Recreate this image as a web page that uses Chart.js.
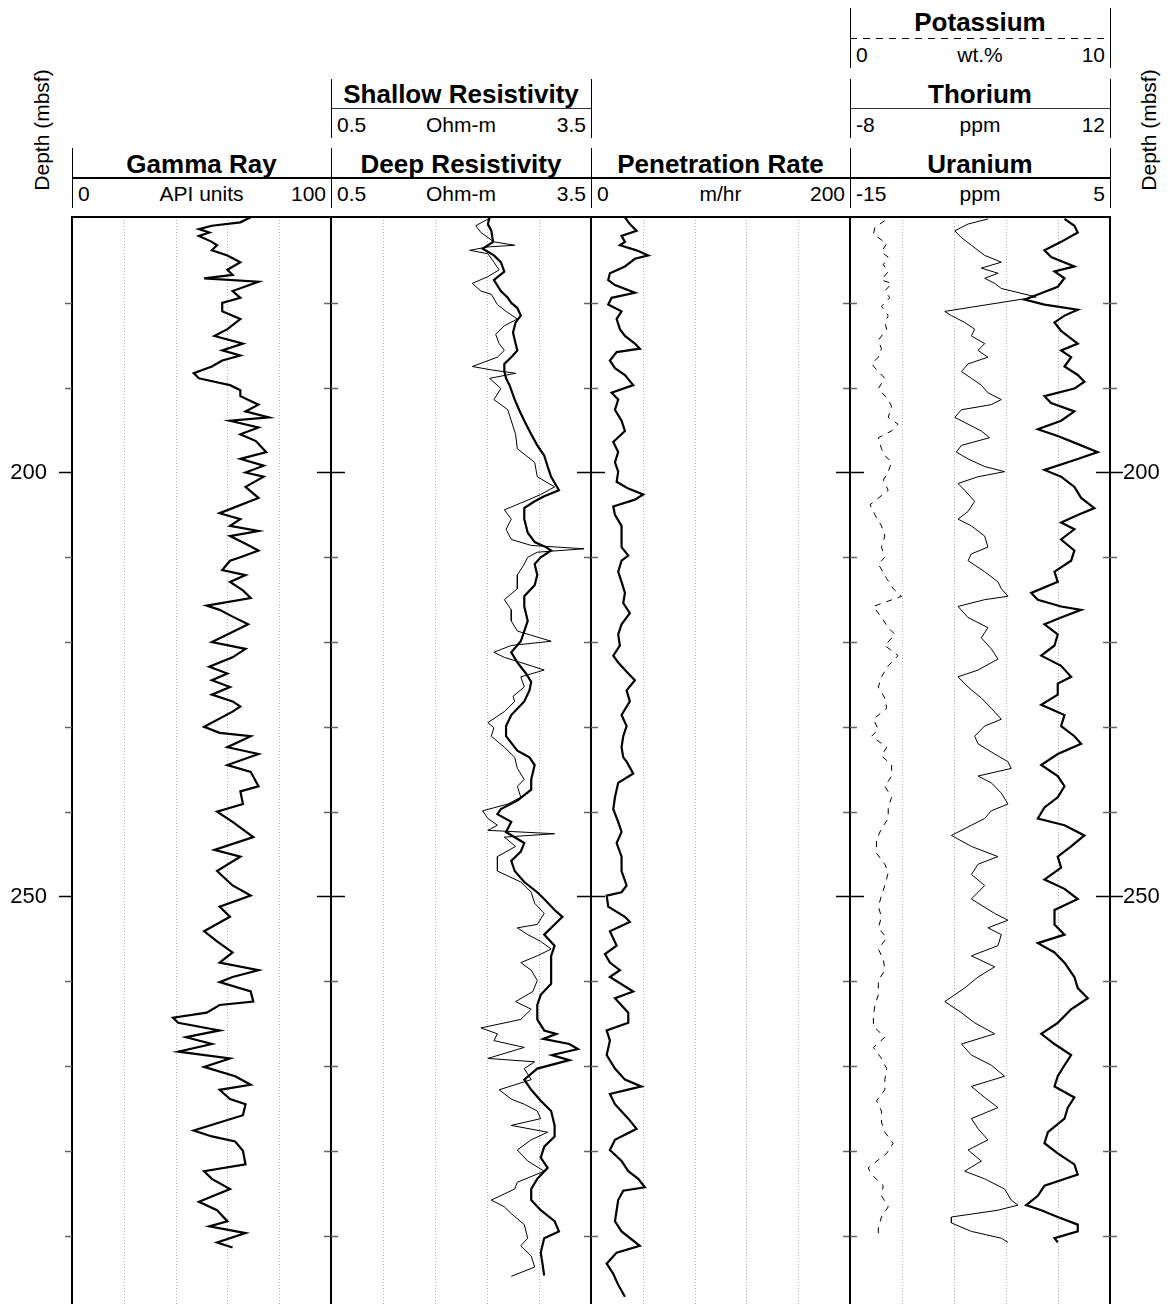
<!DOCTYPE html>
<html>
<head>
<meta charset="utf-8">
<script src="https://cdn.jsdelivr.net/npm/chart.js@4.4.1/dist/chart.umd.min.js"></script>
<style>
  html, body { margin: 0; padding: 0; background: #fff; overflow: hidden; }
  body { width: 1175px; height: 1304px; position: relative; font-family: "Liberation Sans", Arial, Helvetica, sans-serif; }
  canvas { position: absolute; }
  .txt { position: absolute; white-space: nowrap; color: #000; line-height: 1; }
  .rule { position: absolute; background: #000; }
</style>
</head>
<body>
<script>
// Depth axis (mbsf), shared by every track
const depthRange = [169.87, 298.06];
const depthTicks = [180, 190, 200, 210, 220, 230, 240, 250, 260, 270, 280, 290];
const depthLabels = [200, 250];

// Scale ranges shown in the headers
const grRange = [0, 100];
const resRange = [0.5, 3.5];
const ropRange = [0, 200];
const kRange = [0, 10];
const thRange = [-8, 12];
const uRange = [-15, 5];

// Dotted grid positions inside each track
const grGrid = [20, 40, 60, 80];
const resGrid = [1.1, 1.7, 2.3, 2.9];
const ropGrid = [40, 80, 120, 160];
const kGrid = [2, 4, 6, 8];

// Gamma ray (API units)
const grDepth = [169.9,170.5,170.9,171.3,171.7,172.1,172.8,173.2,173.8,174.4,
  175.2,176.1,176.7,177.1,177.5,178.6,179.4,180.0,181.0,181.9,
  183.1,183.9,184.8,185.6,186.2,186.8,187.5,188.3,188.9,189.3,
  189.7,190.3,191.0,192.0,192.8,193.5,193.9,194.7,195.5,196.3,
  197.6,198.4,199.2,200.0,200.5,201.7,203.0,204.2,204.8,205.5,
  206.3,206.9,207.5,208.4,209.2,210.0,210.4,211.5,212.1,212.9,
  213.9,214.8,215.7,216.2,217.0,217.9,219.1,220.0,220.8,221.8,
  222.9,223.7,224.5,225.3,226.2,227.0,227.6,228.2,230.0,230.7,
  231.1,232.4,233.2,234.5,235.3,237.0,237.6,239.1,240.0,241.2,
  243.0,244.5,245.3,247.0,248.7,249.9,251.2,252.4,254.1,255.3,
  256.6,257.8,258.7,259.5,260.1,261.2,262.4,262.8,263.7,264.3,
  264.9,265.8,266.6,267.4,268.3,269.1,270.1,271.2,272.2,272.8,
  273.9,274.5,275.8,277.6,278.3,278.9,280.0,281.6,282.4,283.3,
  284.5,286.0,287.0,288.3,288.9,289.7,290.8,291.4];
const grValues = [69,65,54,49,53,49,54,56,54,60,
  65,60,62,51,72,62,65,58,58,65,
  60,55,66,58,65,58,54,47,49,55,
  61,65,65,72,67,76,61,72,65,71,
  75,65,74,67,74,67,72,62,57,65,
  61,72,61,67,72,65,61,58,67,61,
  66,69,52,57,62,68,60,54,67,62,
  53,60,54,61,54,62,65,62,51,57,
  69,60,72,60,69,72,65,66,56,62,
  70,55,65,56,62,69,57,61,51,56,
  62,57,72,62,57,69,70,57,52,39,
  41,57,44,54,41,61,51,63,69,57,
  61,67,66,47,54,63,66,67,51,54,
  61,49,56,60,53,67,56,62];

// Deep resistivity (Ohm-m)
const deepDepth = [169.9,170.7,171.5,172.8,173.6,174.4,175.2,176.3,177.3,178.6,
  179.4,180.0,180.6,181.5,182.3,183.5,184.8,185.6,186.4,187.2,
  188.1,188.9,189.7,191.4,192.6,193.9,195.5,196.8,198.0,199.3,
  200.5,202.1,202.8,203.4,204.2,205.5,207.1,208.2,208.8,209.2,
  210.0,210.8,212.1,213.3,214.6,215.8,217.5,218.7,219.9,221.2,
  222.4,223.7,224.7,225.7,227.0,228.6,229.9,231.1,232.8,233.6,
  234.5,236.2,237.4,238.7,239.7,240.3,241.2,242.4,243.7,244.7,
  245.8,247.0,248.3,249.5,250.3,251.6,252.4,253.3,254.5,255.8,
  257.0,258.7,260.3,261.6,262.8,264.5,265.8,266.2,266.8,267.4,
  268.0,268.7,269.3,270.3,271.6,272.8,274.1,275.3,277.0,278.3,
  279.5,280.8,282.0,283.3,284.5,285.8,287.0,288.3,289.5,290.3,
  292.0,293.3,294.7];
const deepValues = [2.33,2.31,2.35,2.37,2.25,2.38,2.46,2.50,2.38,2.46,
  2.54,2.58,2.65,2.69,2.63,2.60,2.63,2.65,2.58,2.50,
  2.50,2.52,2.56,2.62,2.67,2.73,2.81,2.88,2.96,3.00,
  3.04,3.13,2.96,2.85,2.73,2.73,2.77,2.85,2.98,3.04,
  2.92,2.85,2.88,2.85,2.73,2.73,2.77,2.73,2.69,2.58,
  2.65,2.75,2.81,2.79,2.73,2.58,2.52,2.52,2.65,2.79,
  2.85,2.81,2.81,2.65,2.46,2.42,2.58,2.52,2.73,2.69,
  2.58,2.62,2.73,2.88,2.96,3.08,3.17,3.08,2.96,3.08,
  3.04,3.04,3.04,2.92,2.88,2.88,2.96,3.10,2.95,3.25,
  3.35,3.05,3.25,2.88,2.73,2.81,2.92,3.04,3.08,3.08,
  2.96,2.92,3.00,2.88,2.81,2.81,2.92,3.08,3.13,2.96,
  2.92,2.94,2.96];

// Shallow resistivity (Ohm-m)
const shallowDepth = [169.9,170.9,171.7,172.8,173.2,173.4,173.8,174.2,175.2,176.1,
  176.9,177.7,178.6,179.0,180.2,181.0,181.9,182.7,183.7,184.8,
  185.6,186.4,187.5,187.9,188.3,188.9,190.1,191.4,192.6,193.9,
  195.5,197.2,198.8,200.5,201.7,202.6,203.6,204.4,205.5,206.7,
  207.9,208.6,209.0,209.4,210.0,210.8,212.1,213.7,215.0,216.2,
  217.5,218.7,219.9,220.4,221.2,221.8,222.8,223.3,224.1,225.3,
  226.4,227.0,228.2,229.5,230.1,231.1,232.4,233.6,234.9,236.2,
  237.0,238.3,239.1,239.9,240.8,241.6,242.2,242.6,243.0,244.1,
  245.3,247.0,248.3,249.5,250.8,252.0,253.3,253.7,254.5,255.3,
  256.2,257.0,257.8,258.7,259.9,261.2,262.4,263.3,264.5,265.5,
  266.2,267.0,267.8,269.1,269.5,270.3,271.6,272.8,273.9,274.5,
  275.3,276.2,277.0,277.8,278.7,279.9,281.2,282.4,283.7,284.5,
  285.8,286.6,287.4,288.7,290.3,291.2,292.4,293.7,294.8];
const shallowValues = [2.35,2.17,2.23,2.38,2.62,2.31,2.10,2.31,2.38,2.44,
  2.31,2.13,2.23,2.35,2.42,2.52,2.65,2.50,2.40,2.44,
  2.50,2.42,2.13,2.35,2.63,2.33,2.46,2.38,2.54,2.58,
  2.63,2.65,2.85,2.88,3.08,2.92,2.69,2.50,2.58,2.52,
  2.58,2.81,3.42,2.88,2.77,2.73,2.65,2.65,2.50,2.58,
  2.58,2.65,3.04,2.58,2.38,2.50,2.81,2.96,2.69,2.73,
  2.60,2.62,2.50,2.31,2.38,2.35,2.50,2.62,2.65,2.73,
  2.65,2.69,2.54,2.25,2.31,2.42,2.31,3.08,2.50,2.63,
  2.42,2.42,2.69,2.81,2.85,2.96,2.88,2.65,2.77,2.92,
  3.04,2.88,2.69,2.81,2.88,2.83,2.63,2.81,2.69,2.23,
  2.42,2.38,2.73,2.31,2.85,2.73,2.81,2.44,2.58,2.73,
  2.88,2.92,2.58,3.00,2.81,2.65,2.77,2.96,2.65,2.62,
  2.35,2.50,2.58,2.73,2.77,2.69,2.81,2.85,2.58];

// Penetration rate (m/hr)
const ropDepth = [169.9,170.7,171.5,172.1,172.8,173.2,173.8,174.4,174.8,175.7,
  176.5,177.3,177.9,178.8,179.4,180.2,181.0,181.9,183.1,183.9,
  184.8,185.4,185.8,186.8,187.7,188.5,189.7,190.6,191.4,192.6,
  193.9,195.1,196.4,197.6,198.8,199.9,201.1,201.9,202.6,203.2,
  204.0,205.0,206.3,207.5,208.8,209.8,210.4,211.7,212.9,214.2,
  215.4,216.6,217.9,219.1,220.4,221.6,222.4,223.7,224.5,225.7,
  227.0,228.6,229.9,231.1,232.4,233.6,234.1,235.5,236.6,238.3,
  239.7,241.2,242.4,243.7,245.3,247.0,248.7,249.5,249.9,251.2,
  252.4,253.0,254.1,255.8,256.8,257.8,258.7,259.5,261.2,262.0,
  263.7,264.9,265.8,267.0,268.7,270.3,271.6,272.4,273.3,274.5,
  276.2,277.4,278.7,279.9,281.2,282.4,283.3,284.3,284.7,285.8,
  287.0,288.3,289.5,291.2,292.0,293.3,294.5,295.8,297.2];
const ropValues = [26.2,30.0,35.2,23.6,26.2,22.3,35.2,44.2,33.9,26.2,
  14.6,13.3,18.5,33.9,15.9,13.3,23.6,19.8,22.3,26.2,
  33.9,37.7,19.8,14.6,18.5,26.2,32.6,15.9,21.0,18.5,
  23.6,26.2,17.2,21.0,18.5,21.0,19.8,28.8,40.3,33.9,
  17.2,18.5,23.6,23.6,23.6,28.8,23.6,21.0,23.6,26.2,
  24.9,30.0,23.6,21.0,22.3,17.2,21.0,28.8,33.9,27.5,
  30.0,23.6,27.5,24.9,23.6,24.9,27.5,32.6,21.0,18.5,
  17.2,21.0,23.6,19.8,23.6,23.6,27.5,23.6,12.1,13.3,
  26.2,30.0,14.6,19.8,10.8,14.6,22.3,14.6,32.6,18.5,
  28.8,28.8,12.1,14.6,12.1,18.5,26.2,39.0,14.6,18.5,
  28.8,35.2,18.5,14.6,23.6,28.8,36.5,41.6,24.9,21.0,
  19.8,18.5,23.6,37.7,19.8,12.1,17.2,21.0,26.2];

// Potassium (wt.%)
const kDepth = [170.3,171.1,171.9,173.0,174.0,174.6,175.5,176.3,177.3,177.7,
  178.6,179.4,180.4,181.5,182.3,183.1,184.4,185.4,186.4,187.2,
  188.1,188.9,190.1,191.4,192.2,193.5,194.3,195.1,195.9,197.2,
  198.0,198.8,199.9,200.9,202.1,203.8,205.0,206.3,207.5,208.8,
  210.0,210.8,212.5,213.7,214.6,215.8,217.1,218.3,219.1,220.4,
  221.6,222.8,224.1,225.3,226.6,227.8,229.1,230.3,231.1,232.4,
  233.4,234.5,235.8,237.0,238.3,239.5,240.8,242.0,243.3,244.9,
  246.2,247.2,248.7,249.9,251.2,252.4,253.7,254.9,256.2,257.4,
  258.7,259.9,261.6,262.8,264.1,265.3,266.6,267.8,269.1,270.3,
  271.6,272.8,274.1,275.3,276.6,277.8,279.1,280.3,282.0,282.8,
  284.1,285.3,286.6,287.8,289.1,290.3];
const kValues = [1.34,0.96,0.90,1.41,1.21,1.47,1.28,1.47,1.21,1.60,
  1.34,1.53,1.21,1.47,1.34,1.41,1.09,1.21,1.09,0.83,
  1.09,1.34,1.09,1.47,1.60,1.47,1.85,1.60,1.09,1.21,
  1.34,1.60,1.47,1.28,1.47,0.77,0.96,1.21,1.34,1.21,
  1.34,1.09,1.41,1.66,1.98,0.90,1.21,1.47,1.73,1.34,
  1.85,1.47,1.21,1.09,1.34,1.41,0.90,1.09,0.83,1.41,
  1.21,1.60,1.60,1.34,1.60,1.47,1.47,1.21,1.02,1.02,
  1.34,1.47,1.34,1.21,1.09,1.21,1.09,1.41,1.09,1.28,
  1.34,1.09,1.09,0.96,0.90,0.90,1.34,0.90,1.21,1.41,
  1.34,1.34,1.02,1.21,1.21,1.34,1.66,1.41,0.70,0.83,
  1.28,1.21,1.47,1.21,1.09,1.09];

// Thorium (ppm)
const thDepth = [170.1,170.7,171.5,172.3,173.2,174.4,175.2,175.9,176.5,177.1,
  177.7,178.3,179.3,181.0,181.5,182.3,183.1,183.9,184.8,185.6,
  186.4,187.2,188.1,188.9,189.7,190.6,191.4,192.0,192.6,193.5,
  194.3,195.1,195.9,196.8,197.6,198.4,199.3,199.9,200.5,201.3,
  202.1,203.4,204.6,205.5,206.3,207.5,208.8,209.6,210.4,211.7,
  212.9,213.7,214.6,215.0,215.8,217.1,218.3,219.5,220.8,222.0,
  223.3,224.1,225.3,226.6,227.8,229.1,229.9,231.1,232.0,233.2,
  234.1,234.9,235.8,236.6,237.8,239.1,239.9,240.8,241.6,242.8,
  244.1,245.3,246.2,247.4,248.7,250.3,252.0,252.8,253.7,254.5,
  255.8,257.0,258.3,259.5,260.8,262.4,263.7,264.9,266.2,267.4,
  268.7,269.9,271.2,272.4,273.7,274.9,276.2,277.4,278.7,279.9,
  281.2,282.4,283.3,284.5,285.8,286.4,287.0,287.8,288.5,289.5,
  290.3,290.8];
const thValues = [2.61,1.08,0.06,0.57,1.34,2.36,3.64,2.10,3.38,2.36,
  3.13,3.64,6.32,-0.71,-0.20,0.82,1.59,1.34,2.36,1.85,
  2.61,1.08,0.57,1.34,2.10,2.61,3.64,2.87,0.57,0.06,
  1.08,2.10,2.74,0.57,0.18,1.08,2.36,3.89,1.85,0.31,
  0.82,1.59,1.08,0.31,1.34,2.36,2.61,1.34,1.08,2.36,
  3.38,3.64,4.15,2.36,0.31,1.08,2.61,2.10,2.87,3.38,
  1.85,0.31,1.08,2.10,2.87,3.64,2.36,1.59,1.85,3.13,
  4.15,4.40,1.85,2.87,3.64,4.15,2.87,2.36,1.34,-0.20,
  1.34,3.38,1.85,1.34,2.36,1.34,3.13,4.15,2.61,3.64,
  3.38,1.34,3.13,1.85,0.82,-0.71,0.57,1.59,3.13,0.57,
  1.34,2.87,3.89,1.34,2.36,3.38,1.34,1.85,2.61,1.08,
  2.10,0.82,2.36,3.89,4.40,4.92,3.38,-0.20,-0.20,1.34,
  3.64,4.15];

// Uranium (ppm)
const uDepth = [170.1,170.9,171.7,172.8,173.8,174.6,175.7,176.3,177.1,178.1,
  179.0,179.6,180.2,180.8,181.5,182.3,183.3,184.8,185.6,186.4,
  187.5,188.5,189.3,190.1,191.0,191.8,192.8,193.9,194.9,195.7,
  196.8,197.6,198.4,199.7,200.5,201.7,203.0,204.2,205.0,205.9,
  206.7,207.9,209.2,210.4,211.7,212.9,214.2,215.0,215.8,216.2,
  217.1,217.9,219.1,220.4,221.6,222.8,224.1,224.9,226.2,227.4,
  228.6,229.9,231.1,232.0,233.2,234.5,235.8,237.0,238.3,239.5,
  240.8,241.6,242.8,244.1,245.3,246.6,248.0,249.1,250.3,251.6,
  253.3,254.5,255.5,256.6,257.8,259.5,260.8,262.0,263.3,264.9,
  266.2,267.4,268.7,269.9,271.2,272.4,273.7,274.9,276.2,277.8,
  279.1,280.3,281.6,282.8,284.1,285.3,286.4,287.0,287.8,288.7,
  289.5,290.3,290.8];
const uValues = [1.50,2.26,2.52,1.24,-0.04,0.47,2.26,0.73,1.50,0.98,
  -0.55,-1.57,-0.04,2.52,1.50,0.73,1.24,2.52,1.24,2.01,
  1.50,2.52,3.03,2.26,-0.04,0.47,2.26,1.24,-0.55,0.98,
  2.78,4.05,2.52,-0.04,1.24,2.26,2.78,3.80,2.52,1.24,
  2.26,1.24,2.26,2.01,0.73,0.98,-1.06,-0.55,1.24,2.78,
  1.24,-0.04,0.98,0.73,-0.29,1.24,2.01,0.98,0.98,-0.29,
  1.50,1.24,2.26,2.78,0.98,-0.29,0.98,1.50,0.98,-0.04,
  -0.55,1.50,3.03,2.01,0.98,1.24,-0.04,1.50,2.52,0.73,
  0.73,1.50,-0.55,0.73,1.50,2.26,2.52,3.29,2.01,0.98,
  -0.29,0.73,2.01,1.50,0.98,0.73,2.26,1.75,1.50,0.22,
  -0.04,0.98,2.26,2.52,-0.04,-0.55,-1.45,-0.29,0.98,2.52,
  2.52,0.73,0.98];

// ---------------------------------------------------------------------------
// Page layout
const trackEdges = [72, 331, 591, 850, 1110];
const plotTop = 217;
const fontFamily = '"Liberation Sans", Arial, Helvetica, sans-serif';

// Header rows: title centre, scale rule, scale labels, vertical separators.
const headerRows = [
  { title: 22, rule: 38, label: 54, top: 8, bottom: 68 },
  { title: 94, rule: 108, label: 124, top: 79, bottom: 138 },
  { title: 164, rule: 178, label: 193, top: 148, bottom: 208 }
];

function addText(str, x, y, align, size, bold, rotate) {
  const el = document.createElement('div');
  el.className = 'txt';
  el.textContent = str;
  el.style.left = x + 'px';
  el.style.top = y + 'px';
  el.style.fontSize = size + 'px';
  el.style.fontWeight = bold ? 'bold' : 'normal';
  const shift = align === 'left' ? '0' : align === 'right' ? '-100%' : '-50%';
  el.style.transform = 'translate(' + shift + ', -50%)';
  if (rotate) el.style.transform = 'translate(-50%, -50%) rotate(-90deg)';
  document.body.appendChild(el);
}

function addRule(x, y, w, h, style) {
  const el = document.createElement('div');
  el.className = 'rule';
  el.style.left = x + 'px';
  el.style.top = y + 'px';
  el.style.width = w + 'px';
  el.style.height = h + 'px';
  if (style === 'dashed') {
    el.style.background = 'repeating-linear-gradient(to right, #000 0 7px, transparent 7px 13px)';
  } else if (style === 'thin') {
    el.style.background = '#333';
  }
  document.body.appendChild(el);
}

function addHeader(name, unit, range, track, row, style) {
  const r = headerRows[row];
  const left = trackEdges[track];
  const right = trackEdges[track + 1];
  addText(name, (left + right) / 2, r.title, 'center', 26, true);
  if (style === 'thick') addRule(left, r.rule - 1, right - left, 2);
  else addRule(left, r.rule, right - left, 1, style);
  addText(String(range[0]), left + 6, r.label, 'left', 21, false);
  addText(unit, (left + right) / 2, r.label, 'center', 21, false);
  addText(String(range[1]), right - 5, r.label, 'right', 21, false);
  addRule(left - 0.5, r.top, 1.2, r.bottom - r.top);
  addRule(right - 0.5, r.top, 1.2, r.bottom - r.top);
}

addHeader('Gamma Ray', 'API units', grRange, 0, 2, 'thick');
addHeader('Shallow Resistivity', 'Ohm-m', resRange, 1, 1, 'thin');
addHeader('Deep Resistivity', 'Ohm-m', resRange, 1, 2, 'thick');
addHeader('Penetration Rate', 'm/hr', ropRange, 2, 2, 'thick');
addHeader('Potassium', 'wt.%', kRange, 3, 0, 'dashed');
addHeader('Thorium', 'ppm', thRange, 3, 1, 'thin');
addHeader('Uranium', 'ppm', uRange, 3, 2, 'thick');

addText('Depth (mbsf)', 41, 130, 'center', 21, false, true);
addText('Depth (mbsf)', 1148, 130, 'center', 21, false, true);

// ---------------------------------------------------------------------------
// Plugin: dotted grid, track frame and depth tick marks
const trackFrame = {
  id: 'trackFrame',
  beforeDatasetsDraw(chart, args, opts) {
    const { ctx, chartArea: a } = chart;
    const xs = chart.scales[opts.gridAxis];
    ctx.save();
    ctx.strokeStyle = '#b5b5b5';
    ctx.lineWidth = 1;
    ctx.setLineDash([1, 2]);
    opts.grid.forEach(v => {
      const x = Math.round(xs.getPixelForValue(v)) + 0.5;
      ctx.beginPath();
      ctx.moveTo(x, a.top);
      ctx.lineTo(x, a.bottom);
      ctx.stroke();
    });
    ctx.restore();
  },
  afterDatasetsDraw(chart, args, opts) {
    const { ctx, chartArea: a } = chart;
    const ys = chart.scales.y;
    ctx.save();
    ctx.strokeStyle = '#000';
    ctx.lineWidth = 2;
    ctx.beginPath();
    ctx.moveTo(a.left, a.top);
    ctx.lineTo(a.left, a.bottom);
    ctx.moveTo(a.right, a.top);
    ctx.lineTo(a.right, a.bottom);
    ctx.moveTo(a.left - 1, a.top);
    ctx.lineTo(a.right + 1, a.top);
    ctx.stroke();
    ctx.lineWidth = 1.5;
    depthTicks.forEach(d => {
      const y = Math.round(ys.getPixelForValue(d)) + 0.5;
      const major = depthLabels.includes(d);
      const inner = major ? 14 : 7;
      const outer = major ? 13 : 7;
      ctx.strokeStyle = major ? '#000' : '#666';
      ctx.beginPath();
      if (opts.outLeft) {
        ctx.moveTo(a.left - outer, y);
        ctx.lineTo(a.left, y);
      } else {
        ctx.moveTo(a.left, y);
        ctx.lineTo(a.left + inner, y);
      }
      ctx.moveTo(a.right - inner, y);
      ctx.lineTo(a.right, y);
      if (opts.outRight) {
        ctx.moveTo(a.right, y);
        ctx.lineTo(a.right + outer, y);
      }
      ctx.stroke();
    });
    ctx.restore();
  }
};

function series(depths, values) {
  return depths.map((d, i) => ({ x: values[i], y: d }));
}

function curve(depths, values, axis, width, dash) {
  return {
    data: series(depths, values),
    xAxisID: axis,
    yAxisID: 'y',
    borderColor: '#000',
    borderWidth: width,
    borderDash: dash || [],
    pointRadius: 0,
    fill: false,
    tension: 0
  };
}

function xAxis(range) {
  return { type: 'linear', axis: 'x', min: range[0], max: range[1], display: false };
}

// canvas geometry: each canvas is a little wider than its track so the
// frame ticks can be drawn, and runs below the window bottom.
const canvasTop = 190;
const canvasHeight = 1144;

function makeTrack(cfg) {
  const cv = document.createElement('canvas');
  cv.width = cfg.width;
  cv.height = canvasHeight;
  cv.style.left = cfg.left + 'px';
  cv.style.top = canvasTop + 'px';
  document.body.appendChild(cv);

  const yAxis = {
    type: 'linear',
    min: depthRange[0],
    max: depthRange[1],
    reverse: true,
    display: !!cfg.labelSide,
    position: cfg.labelSide || 'left',
    grid: { display: false, drawTicks: false },
    border: { display: false },
    ticks: {
      color: '#000',
      padding: cfg.labelSide === 'left' ? 25 : 13,
      font: { family: fontFamily, size: 22 },
      autoSkip: false
    },
    afterBuildTicks: s => { s.ticks = depthLabels.map(v => ({ value: v })); },
    afterFit: s => {
      s.width = cfg.axisWidth || 0;
      s.paddingTop = 0;
      s.paddingBottom = 0;
    }
  };

  const scales = { y: yAxis };
  Object.keys(cfg.axes).forEach(k => { scales[k] = xAxis(cfg.axes[k]); });

  new Chart(cv, {
    type: 'line',
    data: { datasets: cfg.datasets },
    options: {
      indexAxis: 'y',
      responsive: false,
      animation: false,
      events: [],
      devicePixelRatio: 1,
      layout: { padding: { top: plotTop - canvasTop, bottom: canvasHeight - (1304 - canvasTop), left: cfg.padLeft, right: cfg.padRight } },
      scales: scales,
      plugins: {
        legend: { display: false },
        tooltip: { enabled: false },
        trackFrame: { grid: cfg.grid, gridAxis: cfg.gridAxis, outLeft: cfg.outLeft, outRight: cfg.outRight }
      }
    },
    plugins: [trackFrame]
  });
}

// Track 1: gamma ray
makeTrack({
  left: 0, width: 351, padLeft: 0, padRight: 20,
  labelSide: 'left', axisWidth: 72, outLeft: true,
  axes: { xGR: grRange },
  grid: grGrid, gridAxis: 'xGR',
  datasets: [curve(grDepth, grValues, 'xGR', 2.2)]
});

// Track 2: resistivity
makeTrack({
  left: 311, width: 300, padLeft: 20, padRight: 20,
  axes: { xDeep: resRange, xShallow: resRange },
  grid: resGrid, gridAxis: 'xDeep',
  datasets: [
    curve(shallowDepth, shallowValues, 'xShallow', 1),
    curve(deepDepth, deepValues, 'xDeep', 2.2)
  ]
});

// Track 3: penetration rate
makeTrack({
  left: 571, width: 299, padLeft: 20, padRight: 20,
  axes: { xROP: ropRange },
  grid: ropGrid, gridAxis: 'xROP',
  datasets: [curve(ropDepth, ropValues, 'xROP', 2.2)]
});

// Track 4: spectral gamma
makeTrack({
  left: 830, width: 345, padLeft: 20, padRight: 0,
  labelSide: 'right', axisWidth: 65, outRight: true,
  axes: { xK: kRange, xTh: thRange, xU: uRange },
  grid: kGrid, gridAxis: 'xK',
  datasets: [
    curve(kDepth, kValues, 'xK', 1, [6, 6]),
    curve(thDepth, thValues, 'xTh', 1),
    curve(uDepth, uValues, 'xU', 2.2)
  ]
});
</script>
</body>
</html>
